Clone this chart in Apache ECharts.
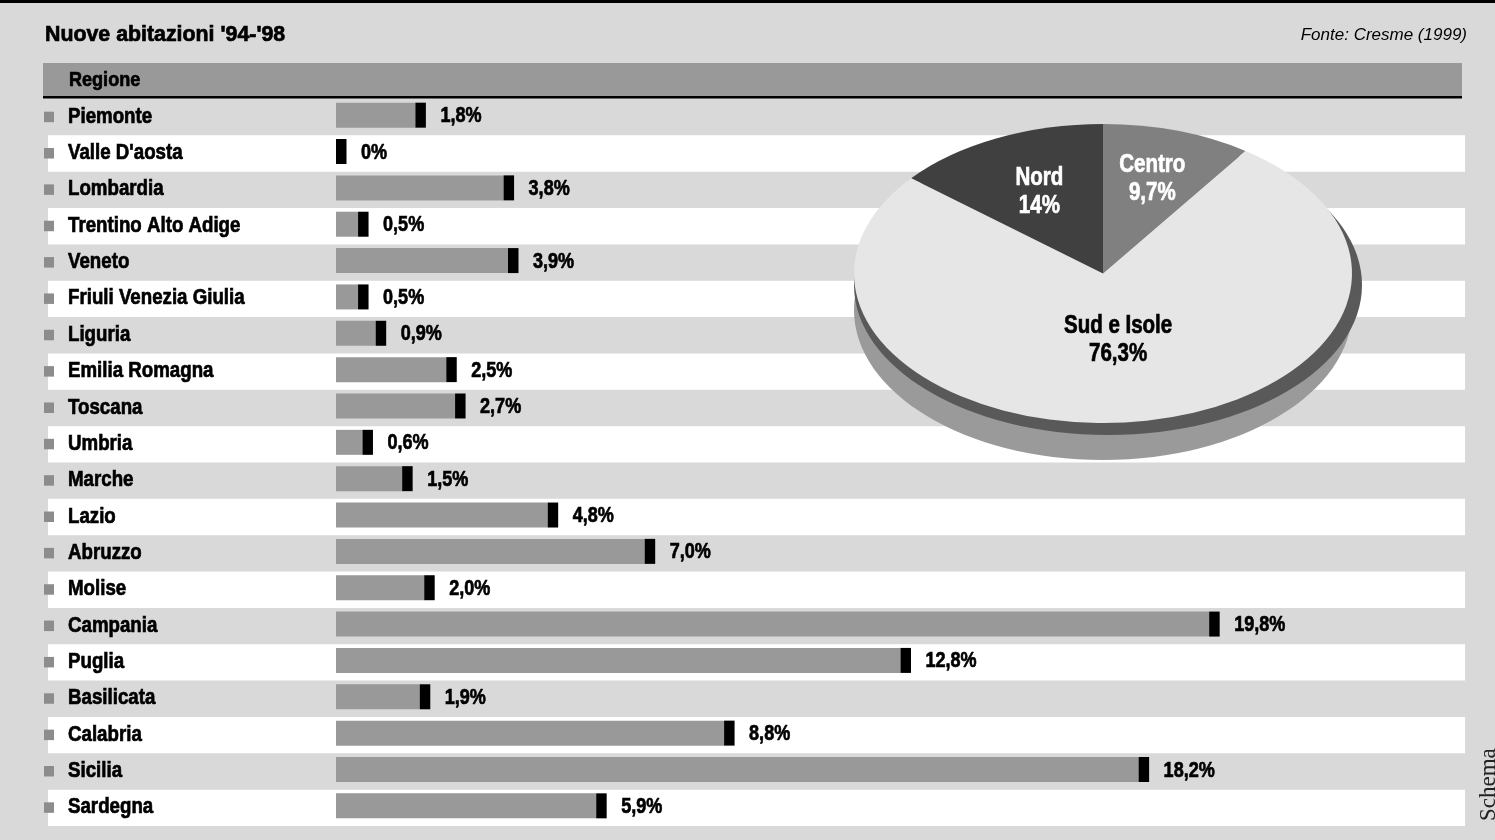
<!DOCTYPE html>
<html><head><meta charset="utf-8">
<script src="https://cdn.jsdelivr.net/npm/echarts@6/dist/echarts.min.js"></script>
<style>html,body{margin:0;padding:0;background:#d9d9d9}#c{width:1495px;height:840px}</style>
</head><body><div id="c"></div><script>
// ---- data ----
const regions = ['Piemonte', "Valle D'aosta", 'Lombardia', 'Trentino Alto Adige', 'Veneto',
  'Friuli Venezia Giulia', 'Liguria', 'Emilia Romagna', 'Toscana', 'Umbria', 'Marche', 'Lazio',
  'Abruzzo', 'Molise', 'Campania', 'Puglia', 'Basilicata', 'Calabria', 'Sicilia', 'Sardegna'];
const values = [1.8, 0, 3.8, 0.5, 3.9, 0.5, 0.9, 2.5, 2.7, 0.6, 1.5, 4.8, 7.0, 2.0, 19.8, 12.8, 1.9, 8.8, 18.2, 5.9];
const valueLabels = ['1,8%', '0%', '3,8%', '0,5%', '3,9%', '0,5%', '0,9%', '2,5%', '2,7%', '0,6%',
  '1,5%', '4,8%', '7,0%', '2,0%', '19,8%', '12,8%', '1,9%', '8,8%', '18,2%', '5,9%'];
const areas = ['Nord', 'Centro', 'Sud e Isole'];
const areaValues = [14, 9.7, 76.3];

// ---- style ----
const FONT = "'Liberation Sans','Arimo',Arial,sans-serif";
const pieColors = ['#404040', '#808080', '#e6e6e6'];
const pieText = ['#ffffff', '#ffffff', '#000000'];
const labelR = [0.6, 0.66, 0.45];
const CX = 1103, CY = 273.5, RX = 249, RY = 149.5;
const heavy = (fill) => ({ fill: fill, stroke: fill, lineWidth: 0.7 });

const chart = echarts.init(document.getElementById('c'));
const total = areaValues.reduce((a, b) => a + b, 0);
const fmt = v => String(v).replace('.', ',') + '%';

const option = {
  backgroundColor: '#d9d9d9',
  animation: false,
  grid: [
    { left: 48, right: 30, top: 99, height: 727 },
    { left: 336, right: 56.5, top: 99, height: 727 }
  ],
  xAxis: [
    { gridIndex: 0, type: 'value', show: false, min: 0, max: 1 },
    { gridIndex: 1, type: 'value', show: false, min: 0, max: 25 }
  ],
  yAxis: [
    { gridIndex: 0, type: 'category', data: regions, inverse: true,
      axisLine: { show: false }, axisTick: { show: false }, axisLabel: { show: false },
      splitArea: { show: true, areaStyle: { color: ['rgba(0,0,0,0)', '#ffffff'] } } },
    { gridIndex: 1, type: 'category', data: regions, inverse: true, show: false }
  ],
  graphic: [
    { type: 'rect', shape: { x: 0, y: 0, width: 1495, height: 3 }, style: { fill: '#000' }, z: 20 },
    { type: 'text', x: 45, y: 35, scaleX: 0.97, z: 21,
      style: Object.assign({ text: "Nuove abitazioni '94-'98", fontFamily: FONT, fontSize: 22, fontWeight: 'bold', verticalAlign: 'middle', align: 'left' }, heavy('#000')) },
    { type: 'text', x: 1467, y: 35, z: 21,
      style: { text: 'Fonte: Cresme (1999)', fontFamily: FONT, fontSize: 17, fontStyle: 'italic', fill: '#000', verticalAlign: 'middle', align: 'right' } },
    { type: 'rect', shape: { x: 43, y: 63, width: 1419, height: 33 }, style: { fill: '#999999' }, z: 20 },
    { type: 'rect', shape: { x: 43, y: 96, width: 1419, height: 2.5 }, style: { fill: '#000' }, z: 20 },
    { type: 'text', x: 69, y: 80, scaleX: 0.86, z: 21,
      style: Object.assign({ text: 'Regione', fontFamily: FONT, fontSize: 21, fontWeight: 'bold', verticalAlign: 'middle' }, heavy('#000')) },
    { type: 'text', x: 1477, y: 821, rotation: Math.PI / 2, z: 21,
      style: { text: 'Schema', fontFamily: "'Liberation Serif','DejaVu Serif',serif", fontSize: 23, fill: '#222', verticalAlign: 'top', align: 'left' } },
    { type: 'ellipse', shape: { cx: 1103, cy: 310, rx: 249, ry: 150 }, style: { fill: '#9a9a9a' }, z: 8 },
    { type: 'ellipse', shape: { cx: 1108, cy: 285, rx: 254, ry: 150 }, style: { fill: '#595959' }, z: 9 }
  ],
  series: [
    {
      // row labels with bullets
      type: 'custom', xAxisIndex: 0, yAxisIndex: 0, z: 3,
      data: regions.map((r, i) => [0, i]),
      encode: { x: 0, y: 1 },
      renderItem: (params, api) => {
        const p = api.coord([0, api.value(1)]);
        return { type: 'group', children: [
          { type: 'rect', shape: { x: 44, y: p[1] - 5.5, width: 10, height: 10.5 }, style: { fill: '#8c8c8c' } },
          { type: 'text', x: 68, y: p[1] - 0.5, scaleX: 0.85,
            style: Object.assign({ text: regions[params.dataIndex], fontFamily: FONT, fontSize: 22, fontWeight: 'bold', verticalAlign: 'middle', align: 'left' }, heavy('#000')) }
        ] };
      }
    },
    {
      type: 'custom', xAxisIndex: 1, yAxisIndex: 1, z: 3,
      data: values.map((v, i) => [v, i]),
      encode: { x: 0, y: 1 },
      renderItem: (params, api) => {
        const v = api.value(0), i = api.value(1);
        const p0 = api.coord([0, i]);
        const p1 = api.coord([v, i]);
        const h = 25;
        const y = p0[1] - 2 - h / 2;
        return { type: 'group', children: [
          { type: 'rect', shape: { x: p0[0], y: y, width: p1[0] - p0[0], height: h }, style: { fill: '#999999' } },
          { type: 'rect', shape: { x: p1[0], y: y, width: 10.5, height: h }, style: { fill: '#000' } },
          { type: 'text', x: p1[0] + 25, y: p0[1] - 1, scaleX: 0.82,
            style: Object.assign({ text: valueLabels[params.dataIndex], fontFamily: FONT, fontSize: 22, fontWeight: 'bold', verticalAlign: 'middle', align: 'left' }, heavy('#000')) }
        ] };
      }
    },
    {
      type: 'custom', coordinateSystem: 'none', z: 10,
      data: areaValues.map((v, i) => ({ name: areas[i], value: v })),
      renderItem: (params, api) => {
        const idx = params.dataIndex;
        const v = api.value(0);
        const start0 = -Math.PI / 2 - areaValues[0] / total * 2 * Math.PI;
        let before = 0;
        for (let j = 0; j < idx; j++) before += areaValues[j];
        const sa = start0 + before / total * 2 * Math.PI;
        const ea = sa + v / total * 2 * Math.PI;
        const mid = (sa + ea) / 2;
        const lx = CX + labelR[idx] * RX * Math.cos(mid);
        const ly = CY + labelR[idx] * RY * Math.sin(mid);
        return { type: 'group', children: [
          { type: 'sector', shape: { cx: CX, cy: CY, r0: 0, r: RX, startAngle: sa, endAngle: ea, clockwise: true },
            scaleY: RY / RX, originX: CX, originY: CY, style: { fill: pieColors[idx] } },
          { type: 'text', x: lx, y: ly, scaleX: 0.82, z2: 5,
            style: Object.assign({ text: areas[idx] + '\n' + fmt(v), fontFamily: FONT, fontSize: 25, fontWeight: 'bold', lineHeight: 28,
              align: 'center', verticalAlign: 'middle' }, heavy(pieText[idx])) }
        ] };
      }
    }
  ]
};
chart.setOption(option);
</script></body></html>
